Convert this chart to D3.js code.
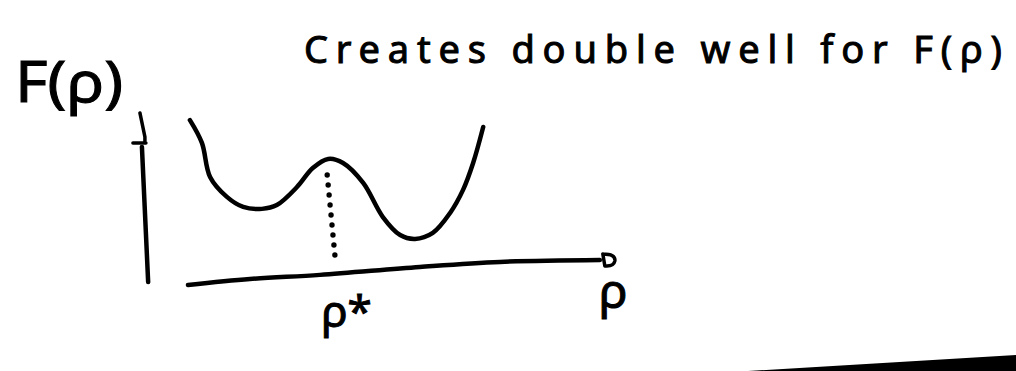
<!DOCTYPE html>
<html>
<head>
<meta charset="utf-8">
<script src="https://cdn.jsdelivr.net/npm/d3@7"></script>
<style>
  html, body { margin: 0; padding: 0; background: #fff; }
  svg { display: block; }
  text { font-family: "Noto Sans", "DejaVu Sans", sans-serif; fill: #000; stroke: #000; stroke-width: 1; }
</style>
</head>
<body>
<svg id="chart" width="1016" height="371"></svg>
<script>
// Sketch of the free energy F(ρ) with two wells, barrier top at ρ*.
const rho = [1.04, 1.29, 1.46, 1.81, 2.15, 2.54, 2.85, 3.27, 3.60, 3.92, 4.23, 4.65, 5.06, 5.42, 5.73, 6.10, 6.46, 6.73, 6.94, 7.15];
const F   = [7.08, 6.13, 4.71, 3.88, 3.46, 3.38, 3.54, 4.29, 5.08, 5.46, 5.29, 4.46, 3.04, 2.29, 2.13, 2.38, 3.21, 4.17, 5.29, 6.79];

// hand-drawn ρ axis (slightly tilted) and F axis
const xAxisRho = [1.00, 2.29, 3.75, 5.83, 7.50, 9.58];
const xAxisF   = [0.21, 0.46, 0.63, 0.96, 1.17, 1.25];
const yAxisRho = [0.04, 0.17];
const yAxisF   = [5.96, 0.33];

// barrier position ρ* and the dotted drop from the barrier to the axis
const rhoStar = [3.90, 4.06];
const dropF   = [4.79, 1.46];
const dotCount = 9;

const title = "Creates double well for F(ρ)";
const yLabel = "F(ρ)";
const xLabel = "ρ";
const starLabel = "ρ*";

const svg = d3.select("#chart");
const W = 1016, H = 371;

const x = d3.scaleLinear().domain([0, 10]).range([140, 620]);
const y = d3.scaleLinear().domain([0, 10]).range([290, 50]);

const ink = "#000";

// free-energy curve
const curve = d3.line()
  .x(d => x(d[0])).y(d => y(d[1]))
  .curve(d3.curveCatmullRom.alpha(0.5));
svg.append("path")
  .attr("d", curve(d3.zip(rho, F)))
  .attr("fill", "none").attr("stroke", ink)
  .attr("stroke-width", 4.5).attr("stroke-linecap", "round").attr("stroke-linejoin", "round");

// ρ axis
svg.append("path")
  .attr("d", curve(d3.zip(xAxisRho, xAxisF)))
  .attr("fill", "none").attr("stroke", ink)
  .attr("stroke-width", 4.5).attr("stroke-linecap", "round");
// open arrow head at the end of the ρ axis
const ex = x(xAxisRho[xAxisRho.length - 1]), ey = y(xAxisF[xAxisF.length - 1]);
svg.append("path")
  .attr("d", `M${ex + 3},${ey - 6} L${ex + 5},${ey + 6} M${ex + 3},${ey - 6} Q${ex + 16},${ey - 6} ${ex + 15},${ey + 1} Q${ex + 14},${ey + 6} ${ex + 7},${ey + 6}`)
  .attr("fill", "none").attr("stroke", ink).attr("stroke-width", 3.5).attr("stroke-linecap", "round");

// F axis with its small hooked top
svg.append("line")
  .attr("x1", x(yAxisRho[0])).attr("y1", y(yAxisF[0]))
  .attr("x2", x(yAxisRho[1])).attr("y2", y(yAxisF[1]))
  .attr("stroke", ink).attr("stroke-width", 4.5).attr("stroke-linecap", "round");
const tx = x(yAxisRho[0]), ty = y(yAxisF[0]);
svg.append("path")
  .attr("d", `M${tx - 2},${ty - 34} L${tx + 3},${ty - 10} L${tx + 3},${ty - 4} M${tx - 9},${ty - 4} L${tx + 4},${ty - 4}`)
  .attr("fill", "none").attr("stroke", ink).attr("stroke-width", 3.5).attr("stroke-linecap", "round");

// dotted drop line at ρ*
const dots = d3.range(dotCount).map(i => {
  const t = i / (dotCount - 1);
  return [rhoStar[0] + t * (rhoStar[1] - rhoStar[0]), dropF[0] + t * (dropF[1] - dropF[0])];
});
svg.selectAll("circle.dot").data(dots).join("circle")
  .attr("class", "dot")
  .attr("cx", d => x(d[0])).attr("cy", d => y(d[1]))
  .attr("r", 2.7).attr("fill", ink);

// labels
svg.append("text")
  .attr("x", 304).attr("y", 63)
  .attr("font-size", 38)
  .attr("textLength", 698).attr("lengthAdjust", "spacing")
  .text(title);

svg.append("text")
  .attr("x", 15).attr("y", 102)
  .attr("font-size", 56)
  .attr("textLength", 108).attr("lengthAdjust", "spacingAndGlyphs")
  .text(yLabel);

svg.append("text")
  .attr("x", x(rhoStar[0]) - 6).attr("y", 327)
  .attr("font-size", 44)
  .text(starLabel);

svg.append("text")
  .attr("x", ex - 1).attr("y", 308)
  .attr("font-size", 48)
  .text(xLabel);

// dark page edge along the lower right corner
svg.append("path")
  .attr("d", `M${W - 268},${H} L${W},${H - 16} L${W},${H} Z`)
  .attr("fill", ink);
</script>
</body>
</html>
